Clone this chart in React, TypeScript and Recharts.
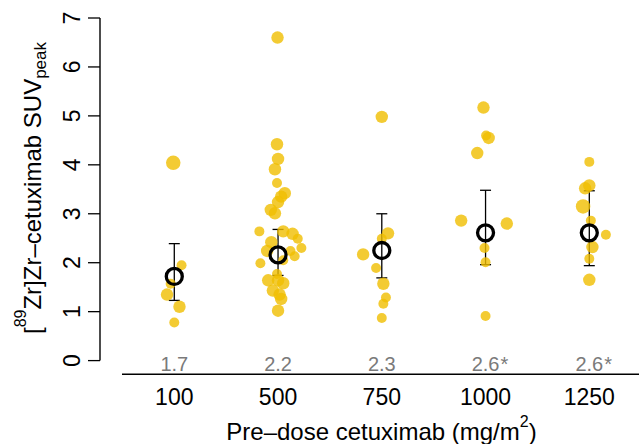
import React from 'react';
import { ScatterChart, Scatter, XAxis, YAxis, ZAxis, ErrorBar } from 'recharts';

const FONT = '"Liberation Sans", Arial, Helvetica, sans-serif';

// dose groups (x axis categories)
const doses = ['100', '500', '750', '1000', '1250'];

// individual SUVpeak values per group, with horizontal jitter and a size class (1-3)
const suv100 = [4.04, 1.95, 1.57, 1.35, 1.1, 0.78];
const jit100 = [-0.01, 0.07, -0.035, -0.07, 0.05, 0];
const size100 = [3, 1, 1, 2, 2, 1];

const suv500 = [
  6.6, 4.42, 4.12, 3.91, 3.63, 3.42, 3.35, 3.24, 3.08, 3.01, 2.64, 2.64, 2.59, 2.49, 2.3,
  2.42, 2.24, 2.24, 2.13, 1.99, 2.05, 1.77, 1.64, 1.64, 1.58, 1.43, 1.35, 1.26, 1.02,
];
const jit500 = [
  -0.005, -0.01, 0, -0.03, -0.01, 0.065, 0.03, 0, -0.07, -0.03, -0.18, 0.05, 0.14, 0.19, 0.225,
  -0.065, -0.105, 0.12, 0.16, -0.17, 0.05, -0.01, -0.095, 0, 0.05, -0.05, 0.015, 0.03, 0,
];
const size500 = [2, 2, 2, 2, 1, 2, 2, 2, 2, 2, 1, 2, 2, 1, 1, 2, 2, 1, 1, 1, 1, 1, 2, 2, 2, 2, 2, 2, 2];

const suv750 = [4.98, 2.6, 2.49, 2.17, 1.89, 1.57, 1.29, 1.16, 0.87];
const jit750 = [0, 0.06, 0, -0.18, -0.055, 0.015, 0.04, 0.015, 0];
const size750 = [2, 2, 1, 2, 1, 2, 1, 1, 1];

const suv1000 = [5.17, 4.6, 4.55, 4.24, 2.86, 2.8, 2.3, 2.01, 0.91];
const jit1000 = [-0.02, 0.005, 0.03, -0.08, -0.235, 0.205, -0.01, 0, 0];
const size1000 = [2, 1, 2, 2, 2, 2, 1, 1, 1];

const suv1250 = [4.06, 3.52, 3.58, 3.15, 2.86, 2.57, 2.32, 2.08, 1.65];
const jit1250 = [0, -0.04, 0, -0.06, 0.015, 0.16, 0.03, 0, 0];
const size1250 = [1, 2, 2, 3, 1, 1, 2, 1, 2];

// group summary: mean with lower / upper interval
const means = [1.72, 2.16, 2.25, 2.61, 2.61];
const lowers = [1.23, 1.74, 1.69, 1.96, 1.94];
const uppers = [2.39, 2.68, 3.0, 3.48, 3.47];
const meanLabels = ['1.7', '2.2', '2.3', '2.6', '2.6'];
const significant = [false, false, false, true, true];

const yTicks = [0, 1, 2, 3, 4, 5, 6, 7];

const groups = [
  [suv100, jit100, size100],
  [suv500, jit500, size500],
  [suv750, jit750, size750],
  [suv1000, jit1000, size1000],
  [suv1250, jit1250, size1250],
];

const points = groups.flatMap(([vals, jit, sz], g) =>
  vals.map((v, i) => ({ x: g + 1 + jit[i], y: v, z: sz[i] }))
);

const summary = means.map((m, i) => ({
  x: i + 1,
  y: m,
  err: [m - lowers[i], uppers[i] - m],
}));

const labelRow = meanLabels.map((l, i) => ({ x: i + 1, y: 0, label: l, star: significant[i] }));

const MeanCircle = (props: any) => (
  <circle cx={props.cx} cy={props.cy} r={8} fill="none" stroke="#000" strokeWidth={3.3} />
);

const MeanLabel = (props: any) => {
  const { cx, cy, payload } = props;
  return (
    <g>
      <text x={cx} y={cy + 10} textAnchor="middle" fontSize={20} fill="#7a7a7a" fontFamily={FONT}>
        {payload.label}
      </text>
      {payload.star && (
        <text x={cx + 15} y={cy + 10} fontSize={20} fill="#7a7a7a" fontFamily={FONT}>
          *
        </text>
      )}
    </g>
  );
};

const YTick = (props: any) => {
  const { x, y, payload } = props;
  const tx = x - 6;
  return (
    <text
      x={tx}
      y={y}
      transform={`rotate(-90, ${tx}, ${y})`}
      textAnchor="middle"
      fontSize={23}
      fill="#000"
      fontFamily={FONT}
    >
      {payload.value}
    </text>
  );
};

const XTick = (props: any) => {
  const { x, y, payload } = props;
  return (
    <text x={x} y={y + 31} textAnchor="middle" fontSize={23} fill="#000" fontFamily={FONT}>
      {doses[payload.value - 1]}
    </text>
  );
};

const XTitle = () => (
  <text x={381.5} y={440} textAnchor="middle" fontSize={24} fill="#000" fontFamily={FONT}>
    Pre–dose cetuximab (mg/m
    <tspan dy={-13} fontSize={16}>2</tspan>
    <tspan dy={13}>)</tspan>
  </text>
);

const YTitle = () => (
  <text
    x={41}
    y={188}
    transform="rotate(-90, 41, 188)"
    textAnchor="middle"
    fontSize={24}
    fill="#000"
    fontFamily={FONT}
  >
    [<tspan dy={-15} fontSize={16}>89</tspan>
    <tspan dy={15}>Zr]Zr–cetuximab SUV</tspan>
    <tspan dy={5} fontSize={17}>peak</tspan>
  </text>
);

export default function App() {
  return (
    <div style={{ position: 'absolute', left: 0, top: 0, width: 639, height: 444, background: '#fff' }}>
      <ScatterChart width={639} height={444} margin={{ top: 18, right: 0, bottom: 0, left: 0 }}>
        <XAxis
          type="number"
          dataKey="x"
          domain={[0.284, 5.479]}
          allowDataOverflow
          ticks={[1, 2, 3, 4, 5]}
          interval={0}
          height={69.7}
          tickLine={false}
          tickSize={0}
          tickMargin={0}
          tick={<XTick />}
          axisLine={{ stroke: '#000', strokeWidth: 1.4, strokeDasharray: '0 22 1000' }}
          label={<XTitle />}
        />
        <YAxis
          type="number"
          dataKey="y"
          domain={[-0.28, 7]}
          allowDataOverflow
          ticks={yTicks}
          interval={0}
          width={100}
          tickSize={12}
          tickMargin={2}
          tick={<YTick />}
          tickLine={{ stroke: '#000', strokeWidth: 1.3 }}
          axisLine={{ stroke: '#000', strokeWidth: 1.4, strokeDasharray: '342.5 100' }}
          label={<YTitle />}
        />
        <ZAxis type="number" dataKey="z" domain={[1, 3]} range={[78, 165]} />
        <Scatter
          data={points}
          fill="#F0BE00"
          fillOpacity={0.8}
          shape="circle"
          isAnimationActive={false}
        />
        <Scatter data={summary} shape={<MeanCircle />} isAnimationActive={false}>
          <ErrorBar dataKey="err" direction="y" width={5.5} stroke="#000" strokeWidth={1.3} />
        </Scatter>
        <Scatter data={labelRow} shape={<MeanLabel />} isAnimationActive={false} />
      </ScatterChart>
    </div>
  );
}
